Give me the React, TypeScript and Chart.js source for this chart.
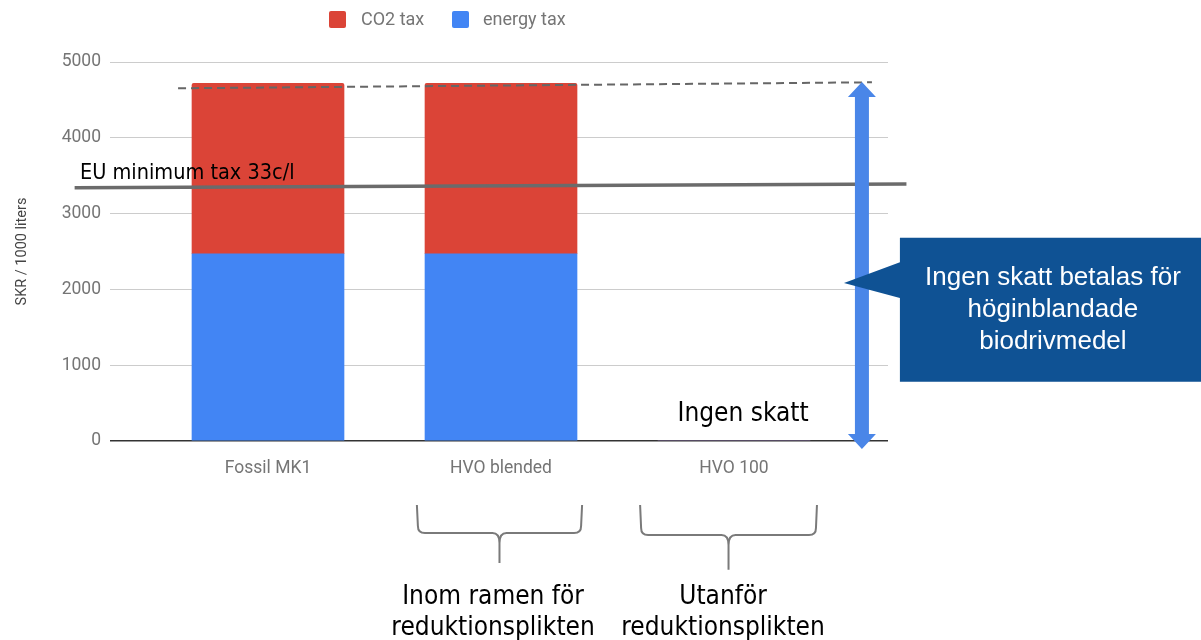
import { useEffect, useRef } from "react";
import { Chart, registerables } from "chart.js";
Chart.register(...registerables);

// ---- data ----
const categories = ["Fossil MK1", "HVO blended", "HVO 100"];
const energyTax = [2470, 2470, 0];
const co2Tax = [2250, 2250, 0];
const seriesLabels = ["CO2 tax", "energy tax"];
const yAxisTitle = "SKR / 1000 liters";
const yMin = 0;
const yMax = 5000;
const yStep = 1000;

// ---- annotations (in axis units: x = category index, y = SKR) ----
const euLabel = "EU minimum tax 33c/l";
const euLineX = [-0.83, 2.74];
const euLineY = [3342, 3392];
const euTextAt = [-0.807, 3463];
const dashX = [-0.386, 2.592];
const dashY = [4653, 4732];
const arrowX = 2.549;
const arrowY = [4735, -105];
const calloutBoxX = [2.712, 4.0];
const calloutBoxY = [2680, 782];
const calloutTip = [2.472, 2083];
const calloutBaseY = [2359, 1885];
const calloutLines = ["Ingen skatt betalas för", "höginblandade", "biodrivmedel"];
const noTaxLabel = "Ingen skatt";
const noTaxAt = [2.039, 356];
const brace1X = [0.639, 1.348];
const brace1Y = [-844, -1213, -1608];
const brace2X = [1.597, 2.356];
const brace2Y = [-844, -1239, -1700];
const groupLabels = [
  ["Inom ramen för", "reduktionsplikten"],
  ["Utanför", "reduktionsplikten"],
];
const groupLabelX = [0.966, 1.953];
const groupLabelY = [-2056, -2465];

const RED = "#db4437";
const BLUE = "#4285f4";

const annotPlugin = {
  id: "annot",
  afterDatasetsDraw(chart: any) {
    const ctx = chart.ctx as CanvasRenderingContext2D;
    const xs = chart.scales.x;
    const ys = chart.scales.y;
    const X = (v: number) => xs.getPixelForValue(v);
    const Y = (v: number) => ys.getPixelForValue(v);
    ctx.save();

    // dashed line over bar tops
    ctx.setLineDash([8, 5]);
    ctx.strokeStyle = "#666666";
    ctx.lineWidth = 2;
    ctx.beginPath();
    ctx.moveTo(X(dashX[0]), Y(dashY[0]));
    ctx.lineTo(X(dashX[1]), Y(dashY[1]));
    ctx.stroke();
    ctx.setLineDash([]);

    // EU minimum line
    ctx.strokeStyle = "#6b6b6b";
    ctx.lineWidth = 3.5;
    ctx.beginPath();
    ctx.moveTo(X(euLineX[0]), Y(euLineY[0]));
    ctx.lineTo(X(euLineX[1]), Y(euLineY[1]));
    ctx.stroke();

    // EU text
    ctx.fillStyle = "#000000";
    ctx.font = '21.5px "DejaVu Sans Condensed", "DejaVu Sans", sans-serif';
    ctx.textAlign = "left";
    ctx.textBaseline = "alphabetic";
    ctx.fillText(euLabel, X(euTextAt[0]), Y(euTextAt[1]));

    // double arrow
    const ax = X(arrowX);
    const at = Y(arrowY[0]);
    const ab = Y(arrowY[1]);
    const hw = 14, sw = 7, hl = 15;
    ctx.fillStyle = "#4a86e8";
    ctx.beginPath();
    ctx.moveTo(ax, at);
    ctx.lineTo(ax + hw, at + hl);
    ctx.lineTo(ax + sw, at + hl);
    ctx.lineTo(ax + sw, ab - hl);
    ctx.lineTo(ax + hw, ab - hl);
    ctx.lineTo(ax, ab);
    ctx.lineTo(ax - hw, ab - hl);
    ctx.lineTo(ax - sw, ab - hl);
    ctx.lineTo(ax - sw, at + hl);
    ctx.lineTo(ax - hw, at + hl);
    ctx.closePath();
    ctx.fill();

    // callout
    const bx0 = X(calloutBoxX[0]);
    const bx1 = Math.max(X(calloutBoxX[1]), chart.width);
    const by0 = Y(calloutBoxY[0]);
    const by1 = Y(calloutBoxY[1]);
    ctx.fillStyle = "#0f5294";
    ctx.beginPath();
    ctx.moveTo(bx0, by0);
    ctx.lineTo(bx1, by0);
    ctx.lineTo(bx1, by1);
    ctx.lineTo(bx0, by1);
    ctx.lineTo(bx0, Y(calloutBaseY[1]));
    ctx.lineTo(X(calloutTip[0]), Y(calloutTip[1]));
    ctx.lineTo(bx0, Y(calloutBaseY[0]));
    ctx.closePath();
    ctx.fill();
    ctx.fillStyle = "#ffffff";
    ctx.font = '26px "Liberation Sans", Arial, sans-serif';
    ctx.textAlign = "center";
    ctx.textBaseline = "middle";
    const cx = bx0 + 153;
    const cy = (by0 + by1) / 2;
    calloutLines.forEach((t, i) => {
      ctx.fillText(t, cx, cy + (i - 1) * 32);
    });

    // "Ingen skatt"
    ctx.fillStyle = "#000000";
    ctx.font = '26px "DejaVu Sans Condensed", "DejaVu Sans", sans-serif';
    ctx.textAlign = "center";
    ctx.textBaseline = "middle";
    ctx.fillText(noTaxLabel, X(noTaxAt[0]), Y(noTaxAt[1]));

    // braces
    const brace = (bx: number[], byv: number[]) => {
      const x1 = X(bx[0]), x2 = X(bx[1]);
      const yT = Y(byv[0]), yM = Y(byv[1]), yTip = Y(byv[2]);
      const xm = (x1 + x2) / 2;
      const r = 7;
      ctx.beginPath();
      ctx.moveTo(x1, yT);
      ctx.lineTo(x1 + 1, yM - r);
      ctx.quadraticCurveTo(x1 + 1, yM, x1 + 1 + r, yM);
      ctx.lineTo(xm - r, yM);
      ctx.quadraticCurveTo(xm, yM, xm, yM + r + 3);
      ctx.lineTo(xm, yTip);
      ctx.moveTo(x2, yT);
      ctx.lineTo(x2 - 1, yM - r);
      ctx.quadraticCurveTo(x2 - 1, yM, x2 - 1 - r, yM);
      ctx.lineTo(xm + r, yM);
      ctx.quadraticCurveTo(xm, yM, xm, yM + r + 3);
      ctx.stroke();
    };
    ctx.strokeStyle = "#7a7a7a";
    ctx.lineWidth = 2;
    brace(brace1X, brace1Y);
    brace(brace2X, brace2Y);

    // group labels
    ctx.fillStyle = "#000000";
    ctx.font = '26px "DejaVu Sans Condensed", "DejaVu Sans", sans-serif';
    ctx.textAlign = "center";
    ctx.textBaseline = "middle";
    groupLabels.forEach((lines, gi) => {
      lines.forEach((t, li) => {
        ctx.fillText(t, X(groupLabelX[gi]), Y(groupLabelY[li]));
      });
    });

    // legend
    const items = [
      { label: seriesLabels[0], color: RED, box: 329, text: 361 },
      { label: seriesLabels[1], color: BLUE, box: 452, text: 483 },
    ];
    ctx.font = '18px Roboto, sans-serif';
    ctx.textAlign = "left";
    ctx.textBaseline = "middle";
    items.forEach((it) => {
      ctx.fillStyle = it.color;
      ctx.beginPath();
      (ctx as any).roundRect(it.box, 11, 17, 17, 2);
      ctx.fill();
      ctx.fillStyle = "#757575";
      ctx.fillText(it.label, it.text, 20);
    });

    ctx.restore();
  },
};

export default function App() {
  const ref = useRef<HTMLCanvasElement | null>(null);
  useEffect(() => {
    document.body.style.margin = "0";
    const canvas = ref.current;
    if (!canvas) return;
    const chart = new Chart(canvas, {
      type: "bar",
      data: {
        datasets: [
          {
            label: seriesLabels[1],
            data: energyTax.map((v, i) => ({ x: i, y: v })),
            backgroundColor: BLUE,
            barThickness: 152,
            borderRadius: 0,
          },
          {
            label: seriesLabels[0],
            data: co2Tax.map((v, i) => ({ x: i, y: v })),
            backgroundColor: RED,
            barThickness: 152,
            borderRadius: { topLeft: 2, topRight: 2, bottomLeft: 0, bottomRight: 0 },
            borderSkipped: "bottom",
          },
        ],
      },
      options: {
        responsive: false,
        animation: false,
        devicePixelRatio: 1,
        layout: { padding: { top: 62, right: 313, left: 0, bottom: 0 } },
        plugins: {
          legend: { display: false },
          tooltip: { enabled: false },
        },
        scales: {
          x: {
            type: "linear",
            stacked: true,
            offset: false,
            min: -0.6781,
            max: 2.6609,
            grid: { display: false, offset: false },
            border: { display: false },
            afterBuildTicks: (s: any) => {
              s.ticks = categories.map((_, i) => ({ value: i }));
            },
            afterFit: (s: any) => {
              s.height = 199;
            },
            ticks: {
              padding: 9,
              color: "#757575",
              font: { family: "Roboto", size: 17.5 },
              maxRotation: 0,
              autoSkip: false,
              callback: (v: any) => categories[Math.round(Number(v))] ?? "",
            },
          },
          y: {
            stacked: true,
            min: yMin,
            max: yMax,
            afterFit: (s: any) => {
              s.width = 110;
            },
            grid: {
              drawTicks: false,
              color: (c: any) => (c.tick && c.tick.value === 0 ? "#333333" : "#cccccc"),
              lineWidth: (c: any) => (c.tick && c.tick.value === 0 ? 1.5 : 1),
            },
            border: { display: false },
            ticks: {
              stepSize: yStep,
              padding: 9,
              color: "#757575",
              font: { family: "Roboto", size: 17.5 },
              callback: (v: any) => String(v),
            },
            title: {
              display: true,
              text: yAxisTitle,
              color: "#444444",
              font: { family: "Roboto", size: 14.5 },
              padding: { top: 14, bottom: 0 },
            },
          },
        },
      },
      plugins: [annotPlugin],
    } as any);
    return () => chart.destroy();
  }, []);
  return (
    <div style={{ position: "absolute", left: 0, top: 0, width: 1201, height: 640, background: "#fff" }}>
      <canvas ref={ref} width={1201} height={640} style={{ width: 1201, height: 640 }} />
    </div>
  );
}
